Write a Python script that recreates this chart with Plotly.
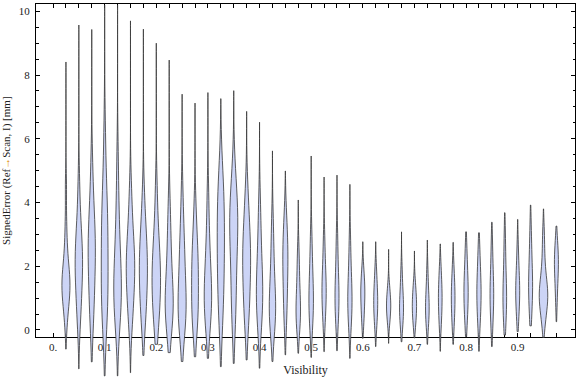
import plotly.graph_objects as go

# ---------------- data ----------------
visibility = [0.025, 0.05, 0.075, 0.1, 0.125, 0.15, 0.175, 0.2, 0.225, 0.25,
              0.275, 0.3, 0.325, 0.35, 0.375, 0.4, 0.425, 0.45, 0.475, 0.5,
              0.525, 0.55, 0.575, 0.6, 0.625, 0.65, 0.675, 0.7, 0.725, 0.75,
              0.775, 0.8, 0.825, 0.85, 0.875, 0.9, 0.925, 0.95, 0.975]

# signed error samples per visibility bin [mm]
samples = [
    [0.2, 0.6, 0.9, 1.1, 1.25, 1.35, 1.45, 1.55, 1.7, 1.9, 2.2, 2.6, 3.3, 4.5],
    [0.2, 0.6, 1.0, 1.4, 1.7, 1.9, 2.1, 2.3, 2.5, 2.8, 3.1, 3.6, 4.6],
    [0.2, 0.6, 1.0, 1.5, 1.9, 2.2, 2.5, 2.7, 2.9, 3.2, 3.6, 4.2, 5.2],
    [0.2, 0.6, 0.9, 1.1, 1.3, 1.6, 2.3, 2.9, 3.1, 3.3, 3.6, 4.1, 4.9, 6.2],
    [0.2, 0.5, 0.8, 1.0, 1.2, 1.35, 1.6, 1.9, 2.3, 2.8, 3.4, 4.1, 5.4],
    [0.2, 0.6, 1.0, 1.4, 1.7, 1.9, 2.1, 2.3, 2.6, 3.0, 3.5, 4.4],
    [0.2, 0.6, 1.0, 1.4, 1.7, 2.0, 2.2, 2.5, 2.9, 3.3, 4.2],
    [0.1, 0.4, 0.8, 1.1, 1.4, 1.6, 1.8, 2.1, 2.4, 2.8, 3.3, 4.4],
    [0.1, 0.3, 0.5, 0.7, 0.85, 1.0, 1.2, 1.6, 2.1, 2.6, 3.1, 4.0],
    [0.1, 0.3, 0.45, 0.6, 0.75, 1.0, 1.4, 1.9, 2.3, 2.6, 3.2, 4.2],
    [0.1, 0.35, 0.55, 0.8, 1.2, 1.7, 1.95, 2.15, 2.5, 3.0, 3.8],
    [0.1, 0.4, 0.7, 0.9, 1.05, 1.3, 1.6, 2.0, 2.5, 3.1, 4.2],
    [0.2, 0.7, 1.2, 1.7, 2.1, 2.5, 2.9, 3.3, 3.7, 4.1, 4.5, 5.0],
    [0.2, 0.7, 1.2, 1.8, 2.4, 2.9, 3.2, 3.4, 3.6, 3.9, 4.3, 4.9],
    [0.2, 0.6, 1.0, 1.5, 1.9, 2.2, 2.4, 2.7, 3.1, 3.6, 4.3],
    [0.1, 0.4, 0.7, 1.0, 1.2, 1.4, 1.7, 2.1, 2.6, 3.2, 4.0],
    [0.1, 0.3, 0.45, 0.6, 0.8, 1.1, 1.5, 2.0, 2.6, 3.4],
    [0.2, 0.6, 1.0, 1.4, 1.8, 2.1, 2.3, 2.5, 2.8, 3.2, 3.6],
    [0.1, 0.3, 0.45, 0.6, 0.8, 1.1, 1.5, 2.0, 2.5],
    [0.1, 0.4, 0.7, 0.9, 1.1, 1.4, 1.8, 2.3, 3.0],
    [0.2, 0.6, 0.9, 1.15, 1.3, 1.5, 1.8, 2.3, 2.9],
    [0.2, 0.5, 0.8, 1.0, 1.2, 1.4, 1.8, 2.4, 3.0],
    [0.1, 0.4, 0.7, 0.9, 1.1, 1.3, 1.7, 2.2, 2.9],
    [0.2, 0.5, 0.8, 1.05, 1.2, 1.35, 1.6, 1.9],
    [0.1, 0.4, 0.65, 0.85, 1.0, 1.2, 1.5, 1.9],
    [0.2, 0.45, 0.65, 0.78, 0.9, 1.1, 1.4],
    [0.1, 0.35, 0.55, 0.72, 0.85, 1.05, 1.4, 1.9],
    [0.15, 0.4, 0.6, 0.8, 0.95, 1.15, 1.5],
    [0.1, 0.35, 0.55, 0.72, 0.85, 1.05, 1.4, 1.9],
    [0.1, 0.4, 0.7, 0.95, 1.1, 1.3, 1.6, 2.0],
    [0.1, 0.4, 0.7, 0.95, 1.1, 1.3, 1.6, 2.0],
    [0.2, 0.5, 0.8, 1.1, 1.25, 1.4, 1.7, 2.1, 2.6],
    [0.1, 0.45, 0.8, 1.05, 1.2, 1.4, 1.7, 2.1, 2.6],
    [0.1, 0.45, 0.8, 1.05, 1.2, 1.4, 1.7, 2.2, 2.8],
    [0.2, 0.5, 0.8, 1.0, 1.15, 1.4, 1.8, 2.4, 3.0],
    [0.3, 0.7, 1.0, 1.2, 1.35, 1.6, 2.0, 2.6],
    [0.4, 0.8, 1.1, 1.35, 1.5, 1.7, 2.1, 2.6, 3.2],
    [0.2, 0.5, 0.8, 0.95, 1.05, 1.15, 1.3, 1.5, 1.8, 2.3, 3.0],
    [0.8, 1.3, 1.7, 1.95, 2.1, 2.25, 2.5, 2.8],
]

# extent of each violin (lower / upper tip) [mm]
span_low = [-0.6, -1.22, -1.0, -1.44, -1.44, -1.34, -0.8, -0.45, -0.71, -0.99,
            -0.84, -0.89, -1.15, -1.05, -0.94, -1.2, -0.99, -0.78, -0.73, -0.86,
            -0.68, -0.65, -0.89, -0.26, -0.52, -0.42, -0.37, -0.25, -0.45, -0.67,
            -0.45, -0.21, -0.67, -0.52, -0.16, -0.05, 0.13, -0.23, 0.26]
span_high = [8.41, 9.57, 9.43, 10.2, 10.2, 9.7, 9.44, 9.0, 8.47, 7.4,
             7.12, 7.45, 7.26, 7.51, 6.86, 6.52, 5.62, 4.99, 4.08, 5.46,
             4.8, 4.86, 4.57, 2.77, 2.77, 2.53, 3.08, 2.48, 2.82, 2.7,
             2.75, 3.08, 3.05, 3.38, 3.68, 3.47, 3.92, 3.8, 3.26]

# drawn (full) width of each violin (pixels)
violin_px = [9.5, 8.7, 8.5, 8, 9, 10, 9.5, 10, 9.5, 9.5,
             8, 8.7, 8.5, 9.5, 9.3, 7.5, 7.5, 6, 5.3, 5.3,
             5, 4.7, 5, 4.8, 4.7, 5, 4.7, 5, 4.3, 4.3,
             4.3, 5, 5, 4.3, 4.3, 4.7, 4.7, 10, 4.7]

tick_vals = [0.0] + visibility
tick_labels = {0.0: "0.", 0.1: "0.1", 0.2: "0.2", 0.3: "0.3", 0.4: "0.4",
               0.5: "0.5", 0.6: "0.6", 0.7: "0.7", 0.8: "0.8", 0.9: "0.9"}
y_ticks = [0, 2, 4, 6, 8, 10]

# ---------------- geometry ----------------
W, H = 576, 377
frame_left, frame_right = 36, 575
frame_top, frame_bottom = 4.3, 337
x_lo, x_hi = -0.033, 1.011
y_lo, y_hi = -0.22, 10.22

y_ppu = (frame_bottom - frame_top) / (y_hi - y_lo)
x_ppu = (frame_right - frame_left) / (x_hi - x_lo)
y2_lo = y_lo - (H - frame_bottom) / y_ppu
y2_hi = y_hi + frame_top / y_ppu

FILL = "rgb(204,212,246)"
EDGE = "rgba(55,55,55,0.8)"
FONT = "Liberation Serif"
TXT = "#222222"

fig = go.Figure()
# empty trace to hold the framed subplot
fig.add_trace(go.Scatter(x=[], y=[], xaxis="x", yaxis="y", showlegend=False))

for v, s, lo, hi, wpx in zip(visibility, samples, span_low, span_high, violin_px):
    fig.add_trace(go.Violin(
        x=[v] * len(s), y=s, xaxis="x", yaxis="y2",
        spanmode="manual", span=[lo, hi],
        # outline stroke adds ~1px, so the body is set slightly narrower
        width=0.85 * wpx / x_ppu, scalemode="width",
        fillcolor=FILL, line=dict(color=EDGE, width=1),
        points=False, box_visible=False, meanline_visible=False,
        hoverinfo="skip", showlegend=False,
    ))

tick_text = [tick_labels.get(round(t, 3), "") for t in tick_vals]

fig.update_layout(
    width=W, height=H,
    margin=dict(l=0, r=0, t=0, b=0),
    paper_bgcolor="white", plot_bgcolor="rgba(0,0,0,0)",
    violinmode="overlay",
    font=dict(family=FONT, size=11, color=TXT),
    xaxis=dict(
        domain=[frame_left / W, frame_right / W],
        range=[x_lo, x_hi], anchor="y",
        tickmode="array", tickvals=tick_vals, ticktext=tick_text,
        ticks="inside", ticklen=4, tickwidth=1, tickcolor="black",
        showline=True, linecolor="black", linewidth=1, mirror="ticks",
        showgrid=False, zeroline=False,
        tickfont=dict(family=FONT, size=11, color=TXT),
        ticklabelstandoff=0,
        title=dict(text="Visibility", font=dict(family=FONT, size=12, color=TXT),
                   standoff=14),
    ),
    yaxis=dict(
        domain=[(H - frame_bottom) / H, (H - frame_top) / H],
        range=[y_lo, y_hi], anchor="x",
        tickmode="array", tickvals=y_ticks,
        ticks="inside", ticklen=4, tickwidth=1, tickcolor="black",
        minor=dict(dtick=0.5, ticks="inside", ticklen=2.5, tickcolor="black", tickwidth=1),
        showline=True, linecolor="black", linewidth=1, mirror="ticks",
        showgrid=False, zeroline=False,
        tickfont=dict(family=FONT, size=11, color=TXT),
        ticklabelstandoff=3,
        title=dict(text="SignedError (Ref<span style='color:#E08A00'>\u2192</span>Scan, I) [mm]",
                   font=dict(family=FONT, size=11, color=TXT), standoff=6),
    ),
    yaxis2=dict(
        domain=[0, 1], range=[y2_lo, y2_hi], anchor="x",
        visible=False, showgrid=False, zeroline=False,
    ),
)

fig.write_html("out.html", config={"displayModeBar": False},
               post_script="document.body.style.margin='0';")
